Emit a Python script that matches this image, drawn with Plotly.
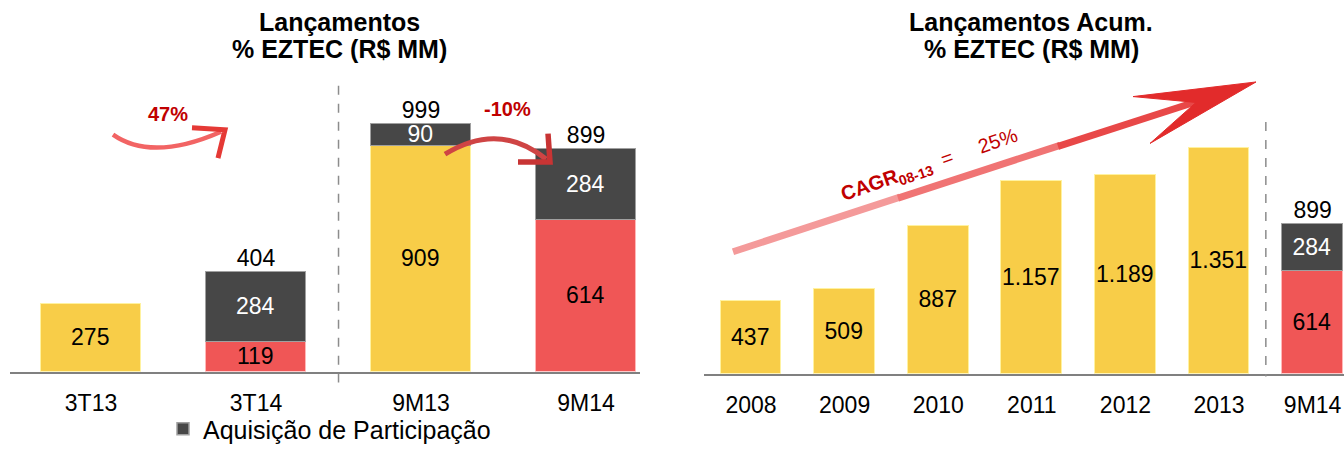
import plotly.graph_objects as go

W, H = 1344, 452

# ---------------- data ----------------
left_cats = ["3T13", "3T14", "9M13", "9M14"]
left_base = [275, None, 909, None]        # lançamentos (amarelo)
left_eztec = [None, 119, None, 614]       # lançamentos 2014 (vermelho)
left_aquis = [None, 284, 90, 284]         # aquisição de participação
left_total = [None, 404, 999, 899]

right_cats = ["2008", "2009", "2010", "2011", "2012", "2013", "9M14"]
right_base = [437, 509, 887, 1157, 1189, 1351, None]
right_eztec = [None, None, None, None, None, None, 614]
right_aquis = [None, None, None, None, None, None, 284]
right_total = [None, None, None, None, None, None, 899]

YELLOW = "#F8CD48"
RED = "#F05656"
DARK = "#474747"
FONT = "Arial, Liberation Sans, sans-serif"


def fmt(v):
    return "" if v is None else f"{v:,}".replace(",", ".")


def px(x):
    return x / W


def py(y):
    return 1 - y / H


fig = go.Figure()


def add_bars(cats, base, eztec, aquis, total, xa, ya, show_leg, bw):
    fig.add_trace(go.Bar(x=cats, y=base, text=[fmt(v) for v in base], marker_color=YELLOW,
                         marker_line=dict(color="#FFF2A0", width=1.5), width=bw,
                         textfont=dict(color="black", size=23), xaxis=xa, yaxis=ya,
                         showlegend=False, name="Lançamentos"))
    fig.add_trace(go.Bar(x=cats, y=eztec, text=[fmt(v) for v in eztec], marker_color=RED,
                         marker_line=dict(color="#FFB8B8", width=1.5), width=bw,
                         textfont=dict(color="black", size=23), xaxis=xa, yaxis=ya,
                         showlegend=False, name="Lançamentos 2014"))
    fig.add_trace(go.Bar(x=cats, y=aquis, text=[fmt(v) for v in aquis], marker_color=DARK,
                         marker_line=dict(color="#A0A0A0", width=1.5), width=bw,
                         textfont=dict(color="white", size=23), xaxis=xa, yaxis=ya,
                         showlegend=show_leg, name="Aquisição de Participação"))
    fig.add_trace(go.Scatter(x=cats, y=total, text=[fmt(v) for v in total], mode="text",
                             textposition="top center", textfont=dict(color="black", size=23),
                             xaxis=xa, yaxis=ya, showlegend=False, cliponaxis=False))


add_bars(left_cats, left_base, left_eztec, left_aquis, left_total, "x", "y", True, 0.61)
add_bars(right_cats, right_base, right_eztec, right_aquis, right_total, "x2", "y2", False, 0.65)

fig.update_traces(selector=dict(type="bar"), textposition="inside", insidetextanchor="middle",
                  textangle=0, cliponaxis=False)

axis_common = dict(type="category", showline=True, linecolor="#808080", linewidth=2,
                   ticks="outside", ticklen=10, tickcolor="rgba(0,0,0,0)",
                   tickfont=dict(size=23, color="black"), showgrid=False, zeroline=False)

fig.update_layout(
    width=W, height=H, margin=dict(l=0, r=0, t=0, b=0),
    paper_bgcolor="white", plot_bgcolor="white",
    font=dict(family=FONT, color="black"),
    barmode="stack", bargap=0,
    uniformtext=dict(minsize=23, mode="show"),
    xaxis=dict(domain=[px(10), px(640)], range=[-0.491, 3.327], anchor="y", **axis_common),
    yaxis=dict(domain=[py(381), py(80)], range=[0, 301 / 0.254], visible=False),
    xaxis2=dict(domain=[px(704), 1], range=[-0.502, 6.335], anchor="y2", **axis_common),
    yaxis2=dict(domain=[py(383), py(80)], range=[0, 303 / 0.171], visible=False,
                anchor="x2"),
    legend=dict(orientation="h", x=px(163), y=py(440), xanchor="left", yanchor="middle",
                font=dict(size=25, color="black"), bgcolor="rgba(0,0,0,0)"),
)


def label(x, y, text, size, color="black", angle=0):
    fig.add_annotation(x=px(x), y=py(y), xref="paper", yref="paper", showarrow=False,
                       xanchor="center", yanchor="middle", text=text, textangle=angle,
                       font=dict(size=size, color=color))


# titles
label(339, 23, "<b>Lançamentos</b>", 25)
label(339, 50, "<b>% EZTEC (R$ MM)</b>", 25)
label(1031, 23, "<b>Lançamentos Acum.</b>", 25)
label(1031, 50, "<b>% EZTEC (R$ MM)</b>", 25)

# dashed separators between category groups
fig.add_shape(type="line", xref="x", yref="paper", x0=1.5, x1=1.5,
              y0=py(88), y1=py(392), line=dict(color="#8c8c8c", width=1.5, dash="dash"))
fig.add_shape(type="line", xref="x2", yref="paper", x0=5.5, x1=5.5,
              y0=py(125), y1=py(386), line=dict(color="#8c8c8c", width=1.5, dash="dash"))


def path(points, color, width, closed=False, fill=None, curve=False):
    if curve:
        (a, c, b) = points
        d = (f"M {px(a[0])},{py(a[1])} Q {px(c[0])},{py(c[1])} {px(b[0])},{py(b[1])}")
    else:
        d = "M " + " L ".join(f"{px(x)},{py(y)}" for x, y in points)
        if closed:
            d += " Z"
    fig.add_shape(type="path", xref="paper", yref="paper", path=d,
                  line=dict(color=color, width=width),
                  fillcolor=fill if fill else "rgba(0,0,0,0)")


# 47% arrow
path([(113, 138), (152, 166), (221, 135)], "#F26464", 4.5, curve=True)
path([(192, 131), (225, 133), (218, 162)], "#E53935", 5)
label(168, 117, "<b>47%</b>", 20, "#C00000")

# -10% arrow
path([(445, 158), (499, 124), (546, 163)], "#CF4444", 5, curve=True)
path([(548, 137), (550, 166), (518, 166)], "#C83434", 5.5)
label(507, 112, "<b>-10%</b>", 20, "#C00000")

# CAGR arrow: shaft (light to strong red) and notched head
path([(733, 258), (900, 202)], "#F49A9A", 7)
path([(898, 203), (1060, 149)], "#F07474", 7)
path([(1058, 150), (1200, 103)], "#E84848", 7)
path([(1256, 84), (1133, 99), (1196, 105), (1150, 147)], "#E22B2B", 1,
     closed=True, fill="#E22B2B")
label(930, 170, "<b>CAGR<sub>08-13</sub></b> &nbsp;= &nbsp;&nbsp;&nbsp;&nbsp;25%",
      20, "#C00000", angle=-19)

# remove the browser's default 8px page margin so the figure fills the window exactly
fig.write_html("out.html", config={"displayModeBar": False},
               post_script="document.body.style.margin='0';"
                           "document.body.style.overflow='hidden';")
